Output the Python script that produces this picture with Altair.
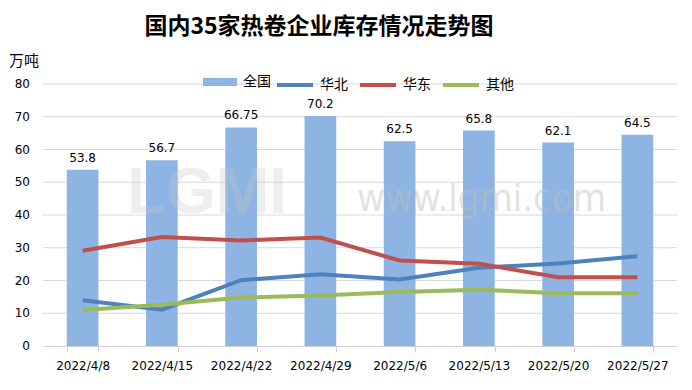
import altair as alt
import pandas as pd

dates = ["2022/4/8", "2022/4/15", "2022/4/22", "2022/4/29", "2022/5/6", "2022/5/13", "2022/5/20", "2022/5/27"]
total = [53.8, 56.7, 66.75, 70.2, 62.5, 65.8, 62.1, 64.5]
total_labels = ["53.8", "56.7", "66.75", "70.2", "62.5", "65.8", "62.1", "64.5"]
north = [14.0, 11.1, 20.1, 21.9, 20.3, 23.9, 25.2, 27.4]
east = [29.1, 33.3, 32.2, 33.1, 26.1, 25.1, 21.0, 21.0]
other = [11.0, 12.6, 14.8, 15.4, 16.5, 17.2, 16.1, 16.1]
y_ticks = [10, 20, 30, 40, 50, 60, 70, 80]
y_tick_labels = ["0", "10", "20", "30", "40", "50", "60", "70", "80"]
y_label_values = [0, 10, 20, 30, 40, 50, 60, 70, 80]

bar_df = pd.DataFrame({"date": dates, "value": total, "label": total_labels, "name": "全国"})
line_df = pd.concat([
    pd.DataFrame({"date": dates, "value": north, "name": "华北", "order": 0}),
    pd.DataFrame({"date": dates, "value": east, "name": "华东", "order": 1}),
    pd.DataFrame({"date": dates, "value": other, "name": "其他", "order": 2}),
])
grid_df = pd.DataFrame({"value": y_ticks})
ylab_df = pd.DataFrame({"value": y_label_values, "label": y_tick_labels})

num_font = "DejaVu Sans"
cjk_font = "Noto Sans CJK SC"
y_scale = alt.Scale(domain=[0, 80], nice=False)

x_enc = alt.X("date:N", sort=dates, title=None,
              scale=alt.Scale(paddingInner=0.6, paddingOuter=0.3),
              axis=alt.Axis(labelAngle=0, labelFont=num_font, labelFontSize=12, labelColor="#000000",
                            labelPadding=8, domainColor="#D0D0D0", tickColor="#D0D0D0", tickSize=6,
                            tickBand="extent", grid=False))
y_enc = alt.Y("value:Q", scale=y_scale, axis=None)

grid = alt.Chart(grid_df).mark_rule(color="#D9D9D9", strokeWidth=1).encode(y=y_enc)

ylabels = alt.Chart(ylab_df).mark_text(align="right", baseline="middle", font=num_font, fontSize=12,
                                       color="#000000").encode(
    y=y_enc, x=alt.value(-13), text="label:N")

unit = alt.Chart(pd.DataFrame({"t": ["万吨"]})).mark_text(
    align="left", baseline="middle", font=cjk_font, fontSize=15, color="#000000").encode(
    x=alt.value(-34), y=alt.value(-23), text="t:N")

bars = alt.Chart(bar_df).mark_bar().encode(
    x=x_enc,
    y=y_enc,
    color=alt.Color("name:N", scale=alt.Scale(domain=["全国"], range=["#8DB4E2"]),
                    legend=alt.Legend(title=None, orient="none", legendX=160, legendY=-19,
                                      symbolType="M-1,-0.235H1V0.235H-1Z", symbolSize=1156,
                                      symbolOpacity=1, symbolStrokeWidth=0, labelFont=cjk_font,
                                      labelFontSize=14, labelColor="#000000", labelOffset=6)),
)

bar_text = alt.Chart(bar_df).mark_text(dy=-12, font=num_font, fontSize=12, color="#000000").encode(
    x=alt.X("date:N", sort=dates),
    y=y_enc,
    text="label:N",
)

lines = alt.Chart(line_df).mark_line(strokeWidth=4).encode(
    x=alt.X("date:N", sort=dates),
    y=y_enc,
    color=alt.Color("name:N", sort=["华北", "华东", "其他"],
                    scale=alt.Scale(domain=["华北", "华东", "其他"], range=["#4F81BD", "#C0504D", "#9BBB59"]),
                    legend=alt.Legend(title=None, orient="none", direction="horizontal",
                                      legendX=232, legendY=-19, symbolType="stroke",
                                      symbolStrokeWidth=4, symbolSize=1296, labelFont=cjk_font,
                                      labelFontSize=14, labelColor="#000000", labelOffset=5,
                                      columnPadding=4)),
    order="order:Q",
)

wm1 = alt.Chart(pd.DataFrame({"t": ["www.lgmi.com"]})).mark_text(
    font="DejaVu Sans Condensed", fontSize=38, color="#BFBFBF", opacity=0.45, align="left",
    baseline="middle").encode(x=alt.value(314), y=alt.value(116), text="t:N")
wm2 = alt.Chart(pd.DataFrame({"t": ["LGMI"]})).mark_text(
    font="Liberation Sans", fontSize=64, fontWeight="bold", color="#C8C8C8", opacity=0.3,
    baseline="middle").encode(x=alt.value(164), y=alt.value(110), text="t:N")

chart = alt.layer(grid, ylabels, unit, bars, wm1, wm2, lines, bar_text).resolve_scale(
    color="independent").properties(
    width=634, height=262,
    autosize=alt.AutoSizeParams(type="none"),
    padding={"left": 35, "top": 76, "right": 7, "bottom": 36},
    title=alt.TitleParams("国内35家热卷企业库存情况走势图", font=cjk_font, fontSize=23, fontWeight="bold",
                          color="#000000", anchor="middle", dx=-41, offset=15),
).configure_view(stroke=None)

chart.save("out.html", embed_options={"renderer": "svg", "actions": False})
